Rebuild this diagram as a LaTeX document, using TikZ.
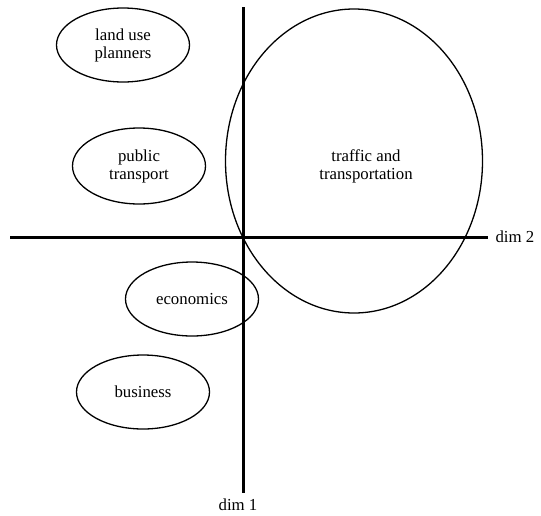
\documentclass[tikz,border=0pt]{standalone}
\usepackage{fontspec}
\setmainfont{Liberation Serif}
\usetikzlibrary{shapes.geometric}

\begin{document}
\begin{tikzpicture}[
    x=1pt, y=-1pt,
    font=\fontsize{16.8}{18}\selectfont,
    group/.style={
        draw,
        ellipse,
        line width=1.3pt,
        align=center,
        inner sep=0pt,
        minimum width=133pt,
        minimum height=74pt
    },
    axis/.style={
        line width=3pt
    }
]
\useasboundingbox (0,0) rectangle (541,515);

\node[group] (landuse) at (123,45) {land use\\planners};

\node[group, minimum height=76pt] (public) at (139,166) {public\\transport};

\node[group] (economics) at (192,299) {economics};

\node[group] (business) at (143,392) {business};

\node[group, minimum width=257pt, minimum height=304pt] (traffic) at (354,161) {};
\node[align=center] (traffictext) at (366,166) {traffic and\\transportation};

\coordinate (d1top) at (243,7);
\coordinate (d1bot) at (243,493);
\coordinate (d2left) at (10,237);
\coordinate (d2right) at (488,237);

\node[anchor=north] (dimone) at (238,495) {dim 1};
\node[anchor=west] (dimtwo) at (492,237) {dim 2};

\draw[axis] (d1top) -- (d1bot);
\draw[axis] (d2left) -- (d2right);

\end{tikzpicture}
\end{document}
